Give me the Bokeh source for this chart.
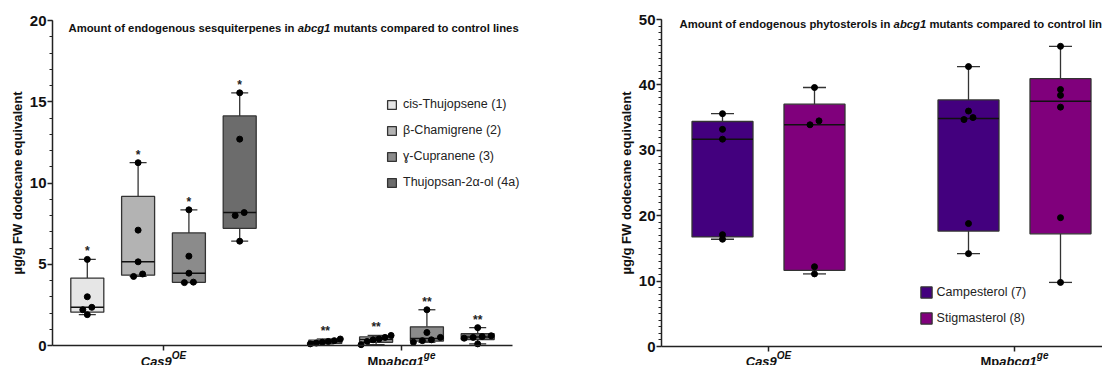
import numpy as np
from bokeh.plotting import figure
from bokeh.models import (Range1d, SingleIntervalTicker, FixedTicker, Label,
                          Legend, LegendItem)
from bokeh.layouts import row
from bokeh.embed import file_html
from bokeh.resources import INLINE
from bokeh.core.properties import value

FONT = "Liberation Sans"

# ---------------- data ----------------
groups = ["Cas9OE", "Mpabcg1ge"]
group_pos = [1.0, 2.0]

sesq_names = ["cis-Thujopsene (1)", "β-Chamigrene (2)", "ɣ-Cupranene (3)", "Thujopsan-2α-ol (4a)"]
sesq_colors = ["#e6e6e6", "#b3b3b3", "#8b8b8b", "#6c6c6c"]
# values per group: [Cas9OE, Mpabcg1ge]
cis_thujopsene = [[1.9, 2.2, 2.35, 3.0, 5.3], [0.1, 0.15, 0.2, 0.25, 0.3, 0.4]]
beta_chamigrene = [[4.25, 4.4, 5.15, 7.1, 11.25], [0.05, 0.25, 0.35, 0.4, 0.5, 0.62]]
gamma_cupranene = [[3.87, 3.9, 4.45, 5.5, 8.35], [0.2, 0.3, 0.35, 0.5, 0.8, 2.2]]
thujopsanol = [[6.42, 8.0, 8.18, 12.7, 15.55], [0.1, 0.45, 0.5, 0.55, 0.6, 1.1]]
sesq_stars = ["*", "**"]

sterol_names = ["Campesterol (7)", "Stigmasterol (8)"]
sterol_colors = ["#43007e", "#80007c"]
campesterol = [[16.4, 17.1, 31.7, 33.2, 35.6], [14.2, 18.8, 34.7, 35.0, 36.0, 42.8]]
stigmasterol = [[11.1, 12.2, 33.9, 34.5, 39.6], [9.8, 19.7, 36.6, 38.4, 39.3, 45.9]]

OUT = "#333333"
H = 365

# Arial/Liberation Sans Bold advance widths (per 1000 em)
W = {'C': 722, 'a': 556, 's': 556, '9': 556, 'O': 778, 'E': 667, 'M': 833,
     'p': 611, 'b': 611, 'c': 556, 'g': 611, '1': 556, 'e': 556}


def spread_offsets(vals, px_per_y, thresh=4.5, step=9.0, max_span=30.0):
    v = np.asarray(vals, float)
    order = list(np.argsort(v))
    offs = np.zeros(len(v))
    clusters, cur = [], [order[0]]
    for a, b in zip(order[:-1], order[1:]):
        if (v[b] - v[a]) * px_per_y < thresh:
            cur.append(b)
        else:
            clusters.append(cur)
            cur = [b]
    clusters.append(cur)
    for c in clusters:
        m = len(c)
        if m > 1:
            st = min(step, max_span / (m - 1))
            for k, idx in enumerate(c):
                offs[idx] = (k - (m - 1) / 2) * st
    return offs


def make_fig(width, bl, xr, xbounds, yr, ybounds, interval, nminor):
    p = figure(width=width, height=H, x_range=Range1d(*xr), y_range=Range1d(*yr),
               output_backend="svg", toolbar_location=None,
               min_border_left=bl, min_border_right=0, min_border_top=0, min_border_bottom=0)
    p.xgrid.visible = False
    p.ygrid.visible = False
    p.outline_line_color = None
    ya = p.yaxis[0]
    ya.ticker = SingleIntervalTicker(interval=interval, num_minor_ticks=nminor)
    ya.bounds = ybounds
    ya.axis_label = "µg/g FW dodecane equivalent"
    ya.axis_label_text_font = FONT
    ya.axis_label_text_font_style = "bold"
    ya.axis_label_text_font_size = "13px"
    ya.axis_label_text_color = "#111111"
    ya.axis_label_standoff = 2
    ya.major_label_text_font = FONT
    ya.major_label_text_font_style = "bold"
    ya.major_label_text_font_size = "15px"
    ya.major_label_text_color = "#111111"
    ya.major_label_standoff = 1
    ya.major_tick_out = 5
    ya.major_tick_in = 0
    ya.minor_tick_out = 3
    ya.minor_tick_in = 0
    ya.axis_line_width = 1.5
    ya.axis_line_color = "#222222"
    ya.major_tick_line_width = 1.5
    ya.major_tick_line_color = "#222222"
    ya.minor_tick_line_color = "#222222"
    xa = p.xaxis[0]
    xa.fixed_location = 0
    xa.bounds = xbounds
    xa.ticker = FixedTicker(ticks=group_pos, minor_ticks=[])
    xa.major_label_overrides = {1: "", 2: ""}
    xa.major_label_standoff = 0
    xa.major_tick_out = 5
    xa.major_tick_in = 0
    xa.axis_line_width = 1.5
    xa.axis_line_color = "#222222"
    xa.major_tick_line_width = 1.5
    xa.major_tick_line_color = "#222222"
    return p


def draw_boxes(p, series_list, colors, offsets, box_w, cap_w, px_y, stars, px_x):
    rends = []
    for s, (vals_by_group, color) in enumerate(zip(series_list, colors)):
        L, R, B, T, M = [], [], [], [], []
        wx0, wy0, wx1, wy1 = [], [], [], []
        cx0, cx1, cy = [], [], []
        px, py = [], []
        sx, sy, st = [], [], []
        for g, vals in enumerate(vals_by_group):
            xc = group_pos[g] + offsets[s]
            q1, med, q3 = np.percentile(vals, [25, 50, 75], method="weibull")
            lo, hi = min(vals), max(vals)
            L.append(xc - box_w / 2); R.append(xc + box_w / 2)
            B.append(q1); T.append(q3); M.append(med)
            wx0 += [xc, xc]; wx1 += [xc, xc]; wy0 += [q3, q1]; wy1 += [hi, lo]
            cx0 += [xc - cap_w / 2] * 2; cx1 += [xc + cap_w / 2] * 2; cy += [hi, lo]
            offs = spread_offsets(vals, px_y)
            for v, o in zip(vals, offs):
                px.append(xc + o / px_x); py.append(v)
            if stars is not None:
                sx.append(xc); sy.append(hi); st.append(stars[g])
        p.segment(x0=wx0, y0=wy0, x1=wx1, y1=wy1, line_color=OUT, line_width=1.3)
        p.segment(x0=cx0, y0=cy, x1=cx1, y1=cy, line_color=OUT, line_width=1.3)
        r = p.quad(left=L, right=R, bottom=B, top=T, fill_color=color, line_color=OUT, line_width=1.3)
        p.segment(x0=L, y0=M, x1=R, y1=M, line_color="#111111", line_width=1.5)
        p.scatter(x=px, y=py, size=6, fill_color="black", line_color="black")
        if stars is not None:
            p.text(x=sx, y=sy, text=st, text_align="center", text_baseline="middle",
                   y_offset=-8, text_font=value(FONT), text_font_style="bold",
                   text_font_size="12px", text_color="#222222")
        rends.append(r)
    return rends


def group_label(p, xc, pieces, ybase):
    widths = [sum(W[ch] for ch in t) / 1000 * size for t, _, size, _ in pieces]
    x0 = -sum(widths) / 2
    for (t, it, size, rs), w in zip(pieces, widths):
        p.add_layout(Label(x=xc, x_units="data", x_offset=x0, y=ybase + rs, y_units="screen",
                           text=t, text_font=FONT, text_font_style="bold italic" if it else "bold",
                           text_font_size=f"{size}px", text_align="left",
                           text_baseline="alphabetic", text_color="#111111"))
        x0 += w


def title(p, x, y, part1, w1, part3):
    common = dict(y=y, x_units="screen", y_units="screen", text_font=FONT,
                  text_font_size="11.3px", text_baseline="middle", text_align="left",
                  text_color="#111111")
    p.add_layout(Label(x=x, text=part1, text_font_style="bold", **common))
    p.add_layout(Label(x=x + w1, text="abcg1", text_font_style="bold italic", **common))
    p.add_layout(Label(x=x + w1 + 32.7 + 3.1, text=part3, text_font_style="bold", **common))


def labels_x(p, ybase):
    group_label(p, group_pos[0], [("Cas9", True, 13, 0), ("OE", True, 10, 6)], ybase)
    group_label(p, group_pos[1], [("Mp", False, 13, 0), ("abcg1", True, 13, 0), ("ge", True, 10, 6)], ybase)


# ---------------- left panel ----------------
LPX = 238.0
L0, L20 = 345.0, 20.0          # pixel rows of y=0 and y=20
LPY = (L0 - L20) / 20
lx0 = 1 - 111 / LPX
p1 = make_fig(561, 52, (lx0, lx0 + 509 / LPX), (lx0, lx0 + 460 / LPX),
              (-(H - L0) / LPY, L0 / LPY), (0, 20), 5, 5)
off1 = [(s - 1.5) * 50.8 / LPX for s in range(4)]
r1 = draw_boxes(p1, [cis_thujopsene, beta_chamigrene, gamma_cupranene, thujopsanol],
                sesq_colors, off1, 33 / LPX, 17 / LPX, LPY, sesq_stars, LPX)
leg1 = Legend(items=[LegendItem(label=n, renderers=[r]) for n, r in zip(sesq_names, r1)],
              location=(334, H - 189), orientation="vertical", padding=0, margin=0,
              spacing=12, glyph_width=11, glyph_height=11, label_height=11,
              label_standoff=6, label_text_font=FONT, label_text_font_size="12.5px",
              label_text_color="#222222", background_fill_alpha=0, border_line_color=None)
p1.add_layout(leg1)
title(p1, 16, H - 27.3, "Amount of endogenous sesquiterpenes in", 229.2,
      "mutants compared to control lines")
labels_x(p1, 4)

# ---------------- right panel ----------------
RPX = 246.0
R0, R50 = 346.0, 19.0          # pixel rows of y=0 and y=50
RPY = (R0 - R50) / 50
rx0 = 1 - 107 / RPX
p2 = make_fig(541, 100, (rx0, rx0 + 441 / RPX), "auto",
              (-(H - R0) / RPY, R0 / RPY), (0, 50), 10, 10)
off2 = [-46 / RPX, 46 / RPX]
r2 = draw_boxes(p2, [campesterol, stigmasterol], sterol_colors, off2,
                61 / RPX, 23 / RPX, RPY, None, RPX)
leg2 = Legend(items=[LegendItem(label=n, renderers=[r]) for n, r in zip(sterol_names, r2)],
              location=(257.6, H - 325.4), orientation="vertical", padding=0, margin=0,
              spacing=12, glyph_width=14, glyph_height=14, label_height=14,
              label_standoff=4, label_text_font=FONT, label_text_font_size="12.5px",
              label_text_color="#222222", background_fill_alpha=0, border_line_color=None)
p2.add_layout(leg2)
title(p2, 18, H - 23.3, "Amount of endogenous phytosterols in", 214.1,
      "mutants compared to control lines")
labels_x(p2, 4)

layout = row(p1, p2, spacing=0)
open("out.html", "w").write(file_html(layout, INLINE))
